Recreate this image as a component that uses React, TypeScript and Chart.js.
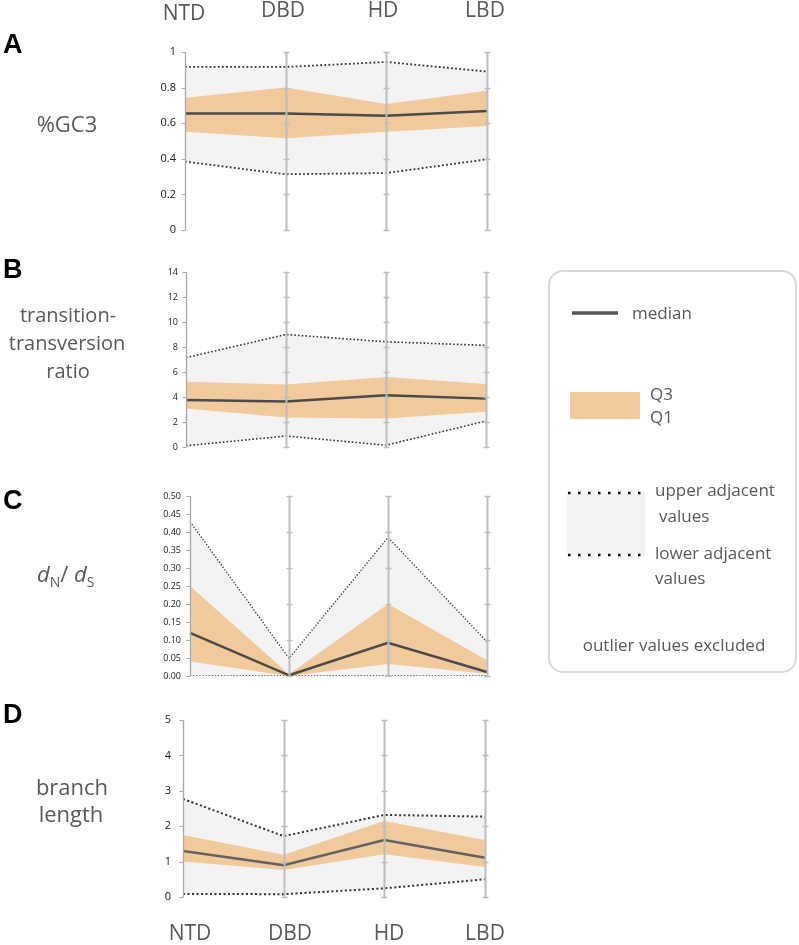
import React, { useEffect, useRef } from 'react';
import { Chart, registerables } from 'chart.js';

Chart.register(...registerables);

const categories = ['NTD', 'DBD', 'HD', 'LBD'];

// Panel A: %GC3
const gc3Upper = [0.917, 0.916, 0.944, 0.89];
const gc3Q3 = [0.743, 0.8, 0.708, 0.783];
const gc3Median = [0.654, 0.654, 0.642, 0.669];
const gc3Q1 = [0.552, 0.515, 0.552, 0.584];
const gc3Lower = [0.384, 0.313, 0.32, 0.397];

// Panel B: transition-transversion ratio
const tsUpper = [7.15, 9.0, 8.42, 8.13];
const tsQ3 = [5.22, 5.01, 5.6, 5.04];
const tsMedian = [3.76, 3.65, 4.13, 3.87];
const tsQ1 = [3.09, 2.37, 2.29, 2.83];
const tsLower = [0.1, 0.88, 0.14, 2.08];

// Panel C: dN/dS
const dnUpper = [0.429, 0.049, 0.385, 0.095];
const dnQ3 = [0.25, 0.005, 0.2, 0.044];
const dnMedian = [0.12, 0.002, 0.0925, 0.011];
const dnQ1 = [0.04, 0.0, 0.033, 0.006];
const dnLower = [0.0, 0.0, 0.0, 0.0];

// Panel D: branch length
const blUpper = [2.77, 1.72, 2.32, 2.27];
const blQ3 = [1.75, 1.19, 2.15, 1.61];
const blMedian = [1.3, 0.9, 1.61, 1.11];
const blQ1 = [1.0, 0.76, 1.21, 0.85];
const blLower = [0.085, 0.08, 0.245, 0.5];

const gc3Ticks = { min: 0, max: 1, step: 0.2 };
const tsTicks = { min: 0, max: 14, step: 2 };
const dnTicks = { min: 0, max: 0.5, step: 0.05 };
const blTicks = { min: 0, max: 5, step: 1 };

const ORANGE = '#f0c99d';
const GRAY_FILL = '#f3f3f3';
const TEXT = '#595959';

type PanelCfg = {
  upper: number[];
  q3: number[];
  median: number[];
  q1: number[];
  lower: number[];
  ticks: { min: number; max: number; step: number };
  fmt: (v: number) => string;
  top: number;
  bottom: number;
  left: number;
  right: number;
  fontSize: number;
  tickPad: number;
  markEvery: number;
  medianColor: string;
  dotWidth: number;
};

const CANVAS_LEFT = 120;
const CANVAS_RIGHT = 500;
const PAD = 22;

const panels: PanelCfg[] = [
  {
    upper: gc3Upper, q3: gc3Q3, median: gc3Median, q1: gc3Q1, lower: gc3Lower,
    ticks: gc3Ticks, fmt: (v) => String(Math.round(v * 10) / 10),
    top: 52, bottom: 230, left: 185, right: 487, fontSize: 11, tickPad: 9, markEvery: 1,
    medianColor: '#4a4a4a', dotWidth: 1.8,
  },
  {
    upper: tsUpper, q3: tsQ3, median: tsMedian, q1: tsQ1, lower: tsLower,
    ticks: tsTicks, fmt: (v) => String(Math.round(v)),
    top: 272, bottom: 447, left: 186, right: 486, fontSize: 9, tickPad: 8, markEvery: 1,
    medianColor: '#4a4a4a', dotWidth: 1.6,
  },
  {
    upper: dnUpper, q3: dnQ3, median: dnMedian, q1: dnQ1, lower: dnLower,
    ticks: dnTicks, fmt: (v) => v.toFixed(2),
    top: 496, bottom: 676, left: 190, right: 487, fontSize: 9, tickPad: 9, markEvery: 2,
    medianColor: '#4a4a4a', dotWidth: 1.3,
  },
  {
    upper: blUpper, q3: blQ3, median: blMedian, q1: blQ1, lower: blLower,
    ticks: blTicks, fmt: (v) => String(Math.round(v)),
    top: 720, bottom: 897, left: 183, right: 485, fontSize: 11, tickPad: 12, markEvery: 1,
    medianColor: '#626262', dotWidth: 2,
  },
];

function PanelChart({ cfg }: { cfg: PanelCfg }) {
  const ref = useRef<HTMLCanvasElement>(null);
  const width = CANVAS_RIGHT - CANVAS_LEFT;
  const height = cfg.bottom - cfg.top + PAD * 2;

  useEffect(() => {
    if (!ref.current) return;
    const axesPlugin = {
      id: 'parallelAxes',
      afterDatasetsDraw(chart: any) {
        const ctx = chart.ctx as CanvasRenderingContext2D;
        const xs = chart.scales.x;
        const ys = chart.scales.y;
        const tickVals: number[] = ys.ticks.map((t: any) => t.value);
        ctx.save();
        categories.forEach((_, i) => {
          const px = Math.round(xs.getPixelForValue(i)) + 0.5;
          const first = i === 0;
          ctx.strokeStyle = first ? '#a8a8a8' : '#bdbdbd';
          ctx.lineWidth = first ? 1.3 : 2;
          ctx.beginPath();
          ctx.moveTo(px, ys.top);
          ctx.lineTo(px, ys.bottom);
          ctx.stroke();
          ctx.lineWidth = first ? 1 : 1.5;
          tickVals.forEach((v, k) => {
            if (!first && k % cfg.markEvery !== 0) return;
            const py = Math.round(ys.getPixelForValue(v)) + 0.5;
            ctx.beginPath();
            if (first) {
              ctx.moveTo(px - 4, py);
              ctx.lineTo(px, py);
            } else {
              ctx.moveTo(px - 3, py);
              ctx.lineTo(px + 3, py);
            }
            ctx.stroke();
          });
        });
        ctx.restore();
      },
    };

    const dotted = {
      borderColor: '#333333',
      borderWidth: cfg.dotWidth,
      borderDash: [cfg.dotWidth, cfg.dotWidth + 0.5],
    };

    const chart = new Chart(ref.current, {
      type: 'line',
      data: {
        labels: categories,
        datasets: [
          { data: cfg.median, borderColor: cfg.medianColor, borderWidth: 2.5, fill: false },
          { data: cfg.q3, borderColor: 'rgba(0,0,0,0)', borderWidth: 1, backgroundColor: ORANGE, fill: '+1' },
          { data: cfg.q1, borderColor: 'rgba(0,0,0,0)', borderWidth: 1, fill: false },
          { data: cfg.upper, ...dotted, backgroundColor: GRAY_FILL, fill: '+1' },
          { data: cfg.lower, ...dotted, fill: false },
        ] as any,
      },
      options: {
        animation: false,
        responsive: false,
        maintainAspectRatio: false,
        layout: {
          padding: { top: PAD, bottom: PAD, left: 0, right: CANVAS_RIGHT - cfg.right },
        },
        elements: {
          point: { radius: 0, hoverRadius: 0 },
          line: { tension: 0 },
        },
        plugins: {
          legend: { display: false },
          tooltip: { enabled: false },
          filler: { drawTime: 'beforeDatasetsDraw' } as any,
        },
        events: [],
        scales: {
          x: { type: 'category', display: false, offset: false },
          y: {
            min: cfg.ticks.min,
            max: cfg.ticks.max,
            grid: { display: false, drawTicks: false },
            border: { display: false },
            ticks: {
              stepSize: cfg.ticks.step,
              padding: cfg.tickPad,
              color: '#222222',
              font: { family: 'Open Sans', size: cfg.fontSize },
              callback: (v: any) => cfg.fmt(Number(v)),
            },
            afterFit: (s: any) => {
              s.width = cfg.left - CANVAS_LEFT;
            },
          },
        },
      },
      plugins: [axesPlugin],
    });
    return () => chart.destroy();
  }, [cfg]);

  return (
    <canvas
      ref={ref}
      width={width}
      height={height}
      style={{
        position: 'absolute',
        left: CANVAS_LEFT,
        top: cfg.top - PAD,
        width,
        height,
      }}
    />
  );
}

const topLabelPos = [
  { x: 184, y: 20 },
  { x: 283, y: 17 },
  { x: 383, y: 17 },
  { x: 485, y: 17 },
];
const bottomLabelPos = [
  { x: 190, y: 940 },
  { x: 290, y: 940 },
  { x: 389, y: 940 },
  { x: 485, y: 940 },
];

export default function App() {
  const font = 'Open Sans, DejaVu Sans, sans-serif';
  return (
    <div
      style={{
        position: 'absolute',
        left: 0,
        top: 0,
        width: 799,
        height: 945,
        background: '#ffffff',
        overflow: 'hidden',
      }}
    >
      {panels.map((p, i) => (
        <PanelChart key={i} cfg={p} />
      ))}
      <svg
        width={799}
        height={945}
        style={{ position: 'absolute', left: 0, top: 0, pointerEvents: 'none' }}
      >
        <g fontFamily={font} fill={TEXT} fontSize={21} textAnchor="middle">
          {categories.map((c, i) => (
            <text key={'t' + c} x={topLabelPos[i].x} y={topLabelPos[i].y}>{c}</text>
          ))}
          {categories.map((c, i) => (
            <text key={'b' + c} x={bottomLabelPos[i].x} y={bottomLabelPos[i].y}>{c}</text>
          ))}
        </g>
        <g fontFamily="Liberation Sans, Arial, sans-serif" fontWeight="bold" fontSize={27} fill="#000">
          <text x={3} y={53}>A</text>
          <text x={3} y={278}>B</text>
          <text x={3} y={509}>C</text>
          <text x={3} y={723}>D</text>
        </g>
        <g fontFamily={font} fill={TEXT} textAnchor="middle">
          <text x={67} y={132} fontSize={22}>%GC3</text>
          <text x={68} y={322} fontSize={20}>transition-</text>
          <text x={67} y={350} fontSize={20}>transversion</text>
          <text x={68} y={378} fontSize={20}>ratio</text>
          <text x={72} y={795} fontSize={22}>branch</text>
          <text x={71} y={822} fontSize={22}>length</text>
        </g>
        <text x={37} y={582} fontFamily={font} fill={TEXT} fontSize={22}>
          <tspan fontStyle="italic">d</tspan>
          <tspan fontSize={14} dy={5}>N</tspan>
          <tspan dy={-5}>/ </tspan>
          <tspan fontStyle="italic">d</tspan>
          <tspan fontSize={14} dy={5}>S</tspan>
        </text>

        {/* Legend */}
        <rect x={549} y={271} width={247} height={401} rx={14} ry={14} fill="#fff" stroke="#dadada" strokeWidth={2} />
        <line x1={572} y1={313} x2={618} y2={313} stroke="#555" strokeWidth={3.5} />
        <rect x={570} y={392} width={70} height={27} fill={ORANGE} />
        <rect x={567} y={493} width={78} height={62} fill={GRAY_FILL} />
        <line x1={568} y1={493} x2={645} y2={493} stroke="#111" strokeWidth={2.5} strokeDasharray="2.5 7.5" />
        <line x1={568} y1={555} x2={645} y2={555} stroke="#111" strokeWidth={2.5} strokeDasharray="2.5 7.5" />
        <g fontFamily={font} fill={TEXT} fontSize={17}>
          <text x={632} y={319}>median</text>
          <text x={650} y={400}>Q3</text>
          <text x={650} y={423}>Q1</text>
          <text x={655} y={496}>upper adjacent</text>
          <text x={659} y={522}>values</text>
          <text x={655} y={559}>lower adjacent</text>
          <text x={655} y={584}>values</text>
          <text x={674} y={651} textAnchor="middle">outlier values excluded</text>
        </g>
      </svg>
    </div>
  );
}
